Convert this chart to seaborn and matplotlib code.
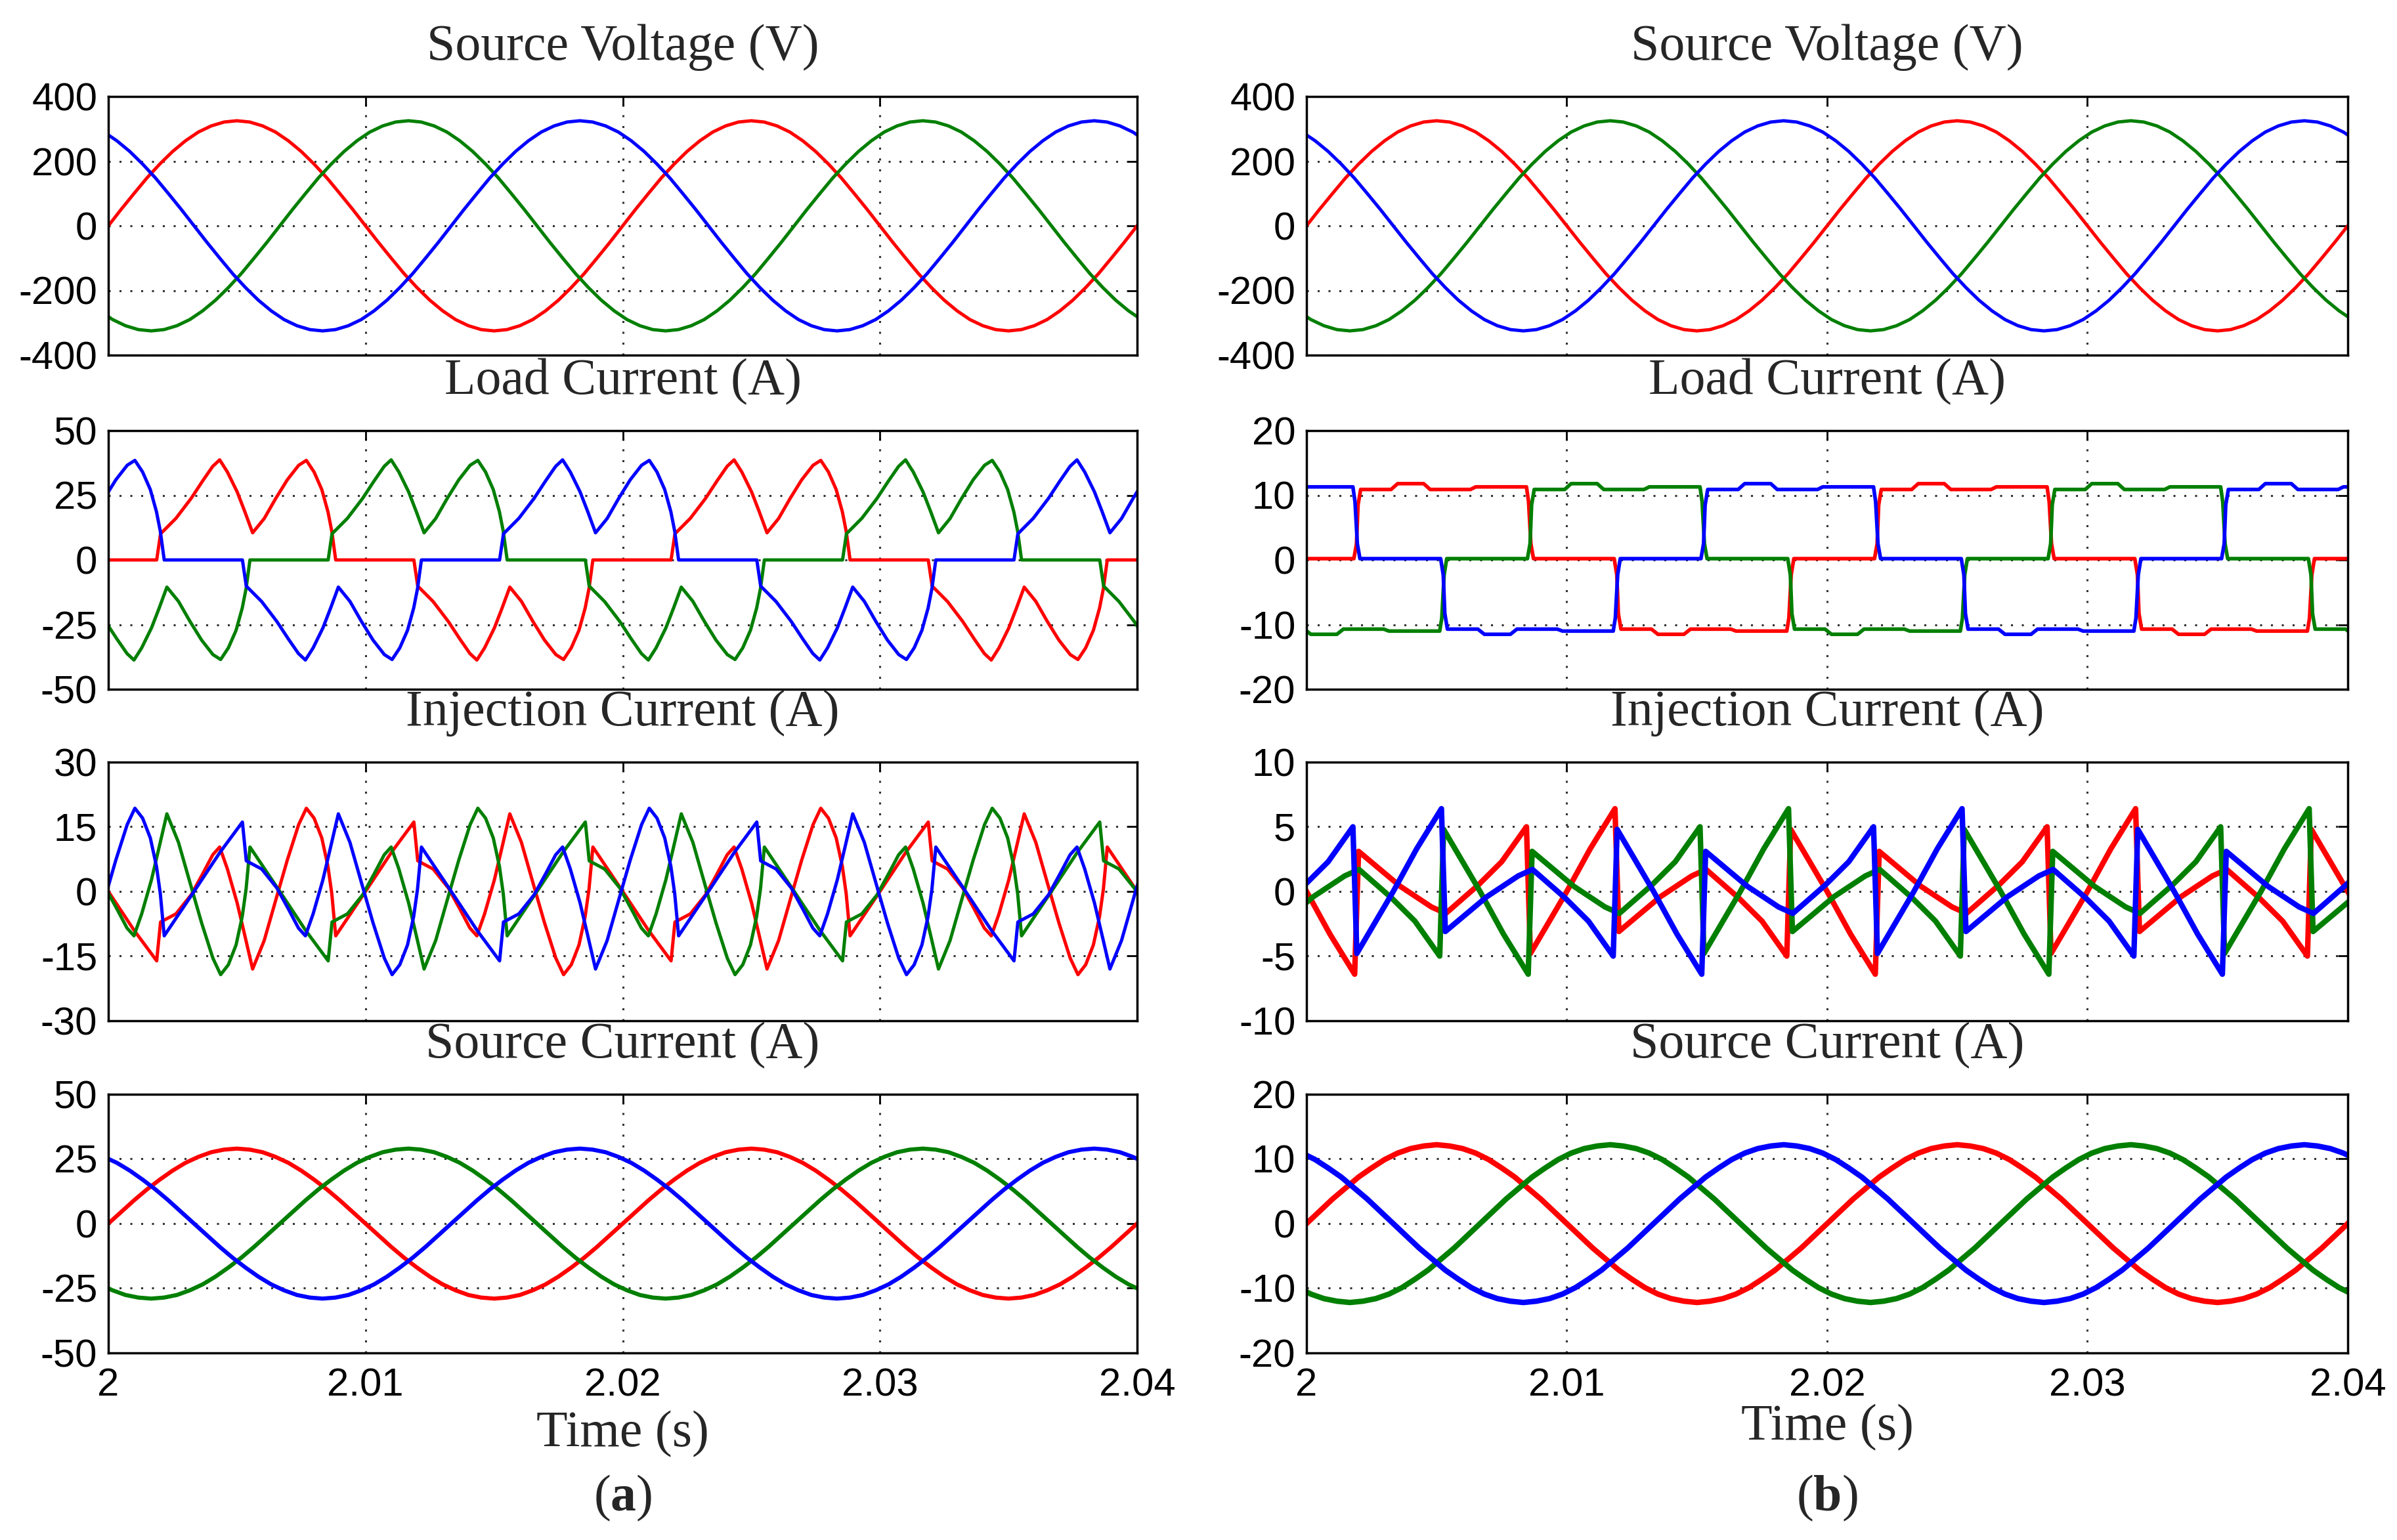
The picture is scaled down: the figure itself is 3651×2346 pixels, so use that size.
import pandas as pd
import matplotlib.pyplot as plt
import seaborn as sns

# Each trace: one 20 ms period of the red phase
# (time in ms after t = 2 s). Green lags red by 120 deg, blue leads by 120 deg.
period_ms = 20
phase_names = ['A', 'B', 'C']
phase_colors = {'A': '#ff0000', 'B': '#007f00', 'C': '#0000ff'}
phase_shift_ms = [0.0, 6.667, -6.667]

# sinusoidal traces are read every 0.5 ms
t_sine = [k * 0.5 for k in range(40)]

# source voltage, same in (a) and (b)
v_source = [0, 51, 100, 148, 191, 230, 263, 290, 309, 321,
            325, 321, 309, 290, 263, 230, 191, 148, 100, 51,
            0, -51, -100, -148, -191, -230, -263, -290, -309, -321,
            -325, -321, -309, -290, -263, -230, -191, -148, -100, -51]

# (a) load current
load_a_t = [0, 1.88, 2.03, 2.63, 3.22, 3.67, 4.06, 4.33, 4.63, 5.01, 5.31,
            5.61, 6.06, 6.51, 6.96, 7.40, 7.70, 8.00, 8.30, 8.54, 8.69, 8.84,
            10, 11.88, 12.03, 12.63, 13.22, 13.67, 14.06, 14.33, 14.63, 15.01, 15.31,
            15.61, 16.06, 16.51, 16.96, 17.40, 17.70, 18.00, 18.30, 18.54, 18.69, 18.84]
load_a_v = [0, 0, 10.1, 16.1, 23.8, 30.6, 36.2, 38.7, 34.0, 26.3, 18.6,
            10.5, 16.0, 23.8, 31.0, 36.6, 38.5, 34.0, 27.2, 18.6, 11.0, 0,
            0, 0, -10.1, -16.1, -23.8, -30.6, -36.2, -38.7, -34.0, -26.3, -18.6,
            -10.5, -16.0, -23.8, -31.0, -36.6, -38.5, -34.0, -27.2, -18.6, -11.0, 0]

# (a) injection current
inj_a_t = [0, 1.0, 1.88, 2.03, 2.63, 3.22, 3.67, 4.06, 4.33, 4.63, 5.01, 5.31,
           5.61, 6.06, 6.51, 6.96, 7.40, 7.70, 8.00, 8.30, 8.54, 8.69, 8.84,
           10, 11.0, 11.88, 12.03, 12.63, 13.22, 13.67, 14.06, 14.33, 14.63, 15.01, 15.31,
           15.61, 16.06, 16.51, 16.96, 17.40, 17.70, 18.00, 18.30, 18.54, 18.69, 18.84]
inj_a_v = [0, -9.0, -16.1, -7.1, -5.2, -0.8, 4.1, 8.5, 10.3, 5.2, -2.7, -10.3,
           -18.0, -11.4, -2.0, 7.3, 15.5, 19.3, 17.0, 12.4, 5.8, -0.6, -10.3,
           0, 9.0, 16.1, 7.1, 5.2, 0.8, -4.1, -8.5, -10.3, -5.2, 2.7, 10.3,
           18.0, 11.4, 2.0, -7.3, -15.5, -19.3, -17.0, -12.4, -5.8, 0.6, 10.3]

# (a) source current
src_a_v = [0, 4.5, 9.0, 13.2, 17.0, 20.5, 23.5, 25.8, 27.6, 28.6,
           29.0, 28.6, 27.6, 25.8, 23.5, 20.5, 17.0, 13.2, 9.0, 4.5,
           0, -4.5, -9.0, -13.2, -17.0, -20.5, -23.5, -25.8, -27.6, -28.6,
           -29.0, -28.6, -27.6, -25.8, -23.5, -20.5, -17.0, -13.2, -9.0, -4.5]

# (b) load current
load_b_t = [0, 1.82, 1.92, 1.98, 2.08, 3.25, 3.5, 4.5, 4.75, 6.3, 6.5, 8.45, 8.53, 8.62, 8.72,
            11.82, 11.92, 11.98, 12.08, 13.25, 13.5, 14.5, 14.75, 16.3, 16.5, 18.45, 18.53, 18.62, 18.72]
load_b_v = [0.2, 0.2, 2.5, 8.5, 10.9, 10.9, 11.8, 11.8, 10.9, 10.9, 11.3, 11.3, 9.0, 2.5, 0.2,
            0.2, -2.3, -8.3, -10.7, -10.7, -11.5, -11.5, -10.7, -10.7, -11.0, -11.0, -9.0, -2.3, 0.2]

# (b) injection current
inj_b_t = [0, 0.9, 1.85, 2.0, 3.6, 4.8, 5.35, 6.6, 7.5, 8.45, 8.6,
           10, 10.9, 11.85, 12.0, 13.6, 14.8, 15.35, 16.6, 17.5, 18.45, 18.6]
inj_b_v = [0, -3.3, -6.4, 3.1, 0.4, -1.2, -1.7, 0.5, 2.3, 5.0, -4.8,
           0, 3.3, 6.4, -3.1, -0.4, 1.2, 1.7, -0.5, -2.3, -5.0, 4.8]

# (b) source current
src_b_v = [0, 1.9, 3.8, 5.5, 7.2, 8.6, 9.9, 10.9, 11.6, 12.0,
           12.2, 12.0, 11.6, 10.9, 9.9, 8.6, 7.2, 5.5, 3.8, 1.9,
           0, -1.9, -3.8, -5.5, -7.2, -8.6, -9.9, -10.9, -11.6, -12.0,
           -12.2, -12.0, -11.6, -10.9, -9.9, -8.6, -7.2, -5.5, -3.8, -1.9]

titles = ['Source Voltage (V)', 'Load Current (A)', 'Injection Current (A)', 'Source Current (A)']
x_ticks = [2, 2.01, 2.02, 2.03, 2.04]
x_ticklabels = ['2', '2.01', '2.02', '2.03', '2.04']

panels_a = [
    (t_sine, v_source, [-400, -200, 0, 200, 400], 3.6),
    (load_a_t, load_a_v, [-50, -25, 0, 25, 50], 3.6),
    (inj_a_t, inj_a_v, [-30, -15, 0, 15, 30], 3.6),
    (t_sine, src_a_v, [-50, -25, 0, 25, 50], 4.5),
]
panels_b = [
    (t_sine, v_source, [-400, -200, 0, 200, 400], 3.6),
    (load_b_t, load_b_v, [-20, -10, 0, 10, 20], 4.0),
    (inj_b_t, inj_b_v, [-10, -5, 0, 5, 10], 6.0),
    (t_sine, src_b_v, [-20, -10, 0, 10, 20], 6.0),
]


def three_phase_frame(t_ms, vals):
    rows = []
    for name, shift in zip(phase_names, phase_shift_ms):
        for k in range(-1, 3):
            for t, v in zip(t_ms, vals):
                rows.append((name, 2 + (t + period_ms * k + shift) / 1000, v))
    return pd.DataFrame(rows, columns=['phase', 'time', 'value'])


sns.set_style('white')
plt.rcParams['font.family'] = ['Liberation Sans', 'DejaVu Sans']
plt.rcParams['axes.unicode_minus'] = False
plt.rcParams['mathtext.fontset'] = 'custom'
plt.rcParams['mathtext.rm'] = 'Liberation Serif'
plt.rcParams['mathtext.bf'] = 'Liberation Serif:bold'

W, H = 3651, 2346
fig = plt.figure(figsize=(W / 100, H / 100), dpi=100)

col_left = [165 / W, 1990 / W]
col_width = [1567 / W, 1586 / W]
row_top = [147, 656, 1161, 1667]
row_h = 394

for c, panels in enumerate([panels_a, panels_b]):
    for r, (t_ms, vals, yticks, lw) in enumerate(panels):
        ax = fig.add_axes([col_left[c], 1 - (row_top[r] + row_h) / H,
                           col_width[c], row_h / H])
        df = three_phase_frame(t_ms, vals)
        sns.lineplot(data=df, x='time', y='value', hue='phase', hue_order=phase_names,
                     palette=phase_colors, estimator=None, sort=False, legend=False,
                     linewidth=lw, ax=ax)
        ax.set_xlim(2, 2.04)
        ax.set_ylim(yticks[0], yticks[-1])
        ax.set_xticks(x_ticks)
        ax.set_yticks(yticks)
        ax.set_yticklabels([str(v) for v in yticks])
        ax.set_xlabel('')
        ax.set_ylabel('')
        ax.grid(True, color='#333333', linestyle=(0, (1, 4.4)), linewidth=2.2)
        ax.set_axisbelow(True)
        for sp in ax.spines.values():
            sp.set_visible(True)
            sp.set_color('black')
            sp.set_linewidth(2.5)
        ax.tick_params(direction='in', top=True, right=True, length=11, width=2,
                       labelsize=43, colors='black', pad=12)
        ax.tick_params(axis='x', pad=16)
        if r == 3:
            ax.set_xticklabels(x_ticklabels)
        else:
            ax.tick_params(labelbottom=False)
        ax.text(0.5, 1.19, titles[r], transform=ax.transAxes, ha='center', va='center',
                fontsize=56, family='Liberation Serif')

    xc = col_left[c] + col_width[c] / 2
    fig.text(xc, 1 - (2185 - 10 * c) / H, 'Time (s)', ha='center', va='center',
             fontsize=56, family='Liberation Serif')
    letter = 'a' if c == 0 else 'b'
    fig.text(xc, 1 - 2282 / H, '($\\mathbf{' + letter + '}$)', ha='center', va='center',
             fontsize=56, family='Liberation Serif')

fig.savefig('out.png', dpi=100)
